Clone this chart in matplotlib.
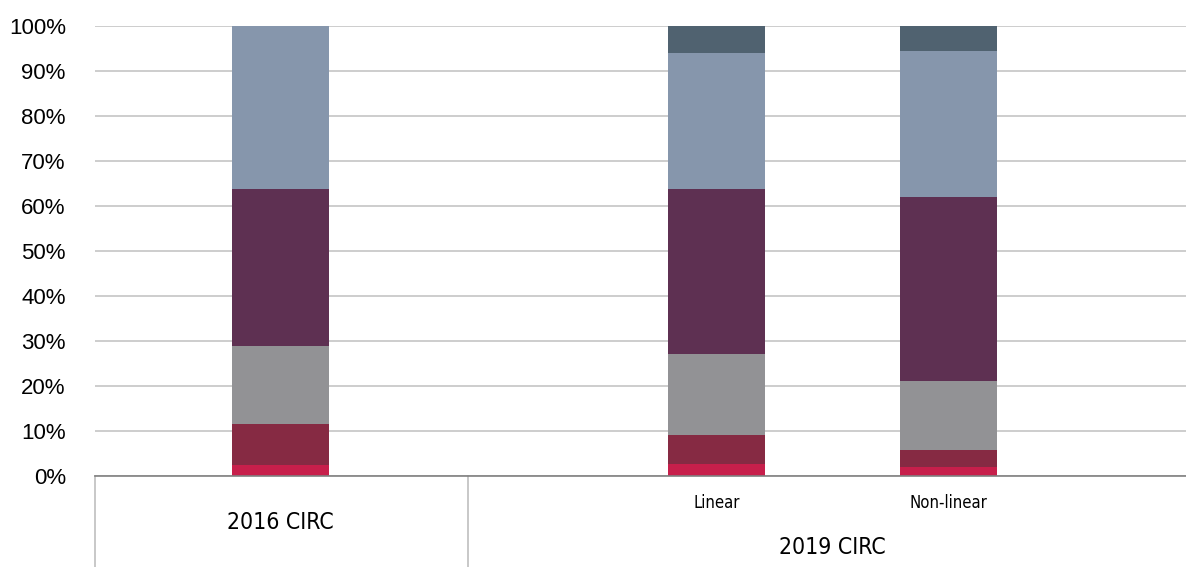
import matplotlib
matplotlib.use('Agg')
import matplotlib.pyplot as plt
from matplotlib.ticker import FuncFormatter

# values (percent of each bar)
bar_labels = ['', 'Linear', 'Non-linear']
groups = ['2016 CIRC', '2019 CIRC']
seg1 = [2.4, 2.7, 2.0]      # bright red
seg2 = [9.2, 6.4, 3.8]      # dark red
seg3 = [17.3, 18.0, 15.3]   # gray
seg4 = [34.9, 36.7, 40.9]   # purple
seg5 = [36.2, 30.2, 32.4]   # blue gray
seg6 = [0.0, 6.0, 5.6]      # dark slate

colors = ['#C71F4B', '#862A43', '#929295', '#5E3052', '#8696AC', '#506270']
x_pos = [0.80, 2.68, 3.68]
width = 0.42

plt.rcParams['font.family'] = ['Liberation Sans', 'DejaVu Sans']

fig = plt.figure(figsize=(11.86, 5.67), dpi=100)
ax = fig.add_axes([95 / 1186, 1 - 476 / 567, 1 - 95 / 1186, 450 / 567])

bottom = [0, 0, 0]
for vals, c in zip([seg1, seg2, seg3, seg4, seg5, seg6], colors):
    ax.bar(x_pos, vals, width, bottom=bottom, color=c, zorder=3)
    bottom = [b + v for b, v in zip(bottom, vals)]

ax.set_ylim(0, 100)
ax.set_xlim(0, 4.703)
ax.set_yticks(range(0, 101, 10))
ax.yaxis.set_major_formatter(FuncFormatter(lambda v, p: f'{int(v)}%'))
ax.tick_params(axis='y', length=0, pad=21, labelsize=16)
ax.set_xticks([])
ax.grid(axis='y', color='#C9C9C9', linewidth=1.3, zorder=0)
for s in ['top', 'right', 'left']:
    ax.spines[s].set_visible(False)
ax.spines['bottom'].set_color('#808080')
ax.spines['bottom'].set_linewidth(1.2)
ax.spines['bottom'].set_zorder(4)

# multi-level category axis (condensed face if the system has one)
trans = ax.get_xaxis_transform()
for xd in [0, 1.61]:
    ax.plot([xd, xd], [0, -0.205], transform=trans, color='#C4C4C4',
            linewidth=1.3, clip_on=False)
for xp, lab in zip(x_pos, bar_labels):
    if lab:
        ax.text(xp, -0.06, lab, transform=trans, ha='center', va='center',
                fontsize=12, family='DejaVu Sans', stretch='condensed')
ax.text(x_pos[0], -0.104, groups[0], transform=trans, ha='center', va='center',
        fontsize=16.5, family='DejaVu Sans', stretch='condensed')
ax.text(3.18, -0.16, groups[1], transform=trans, ha='center', va='center',
        fontsize=16.5, family='DejaVu Sans', stretch='condensed')

fig.savefig('out.png', dpi=100)
